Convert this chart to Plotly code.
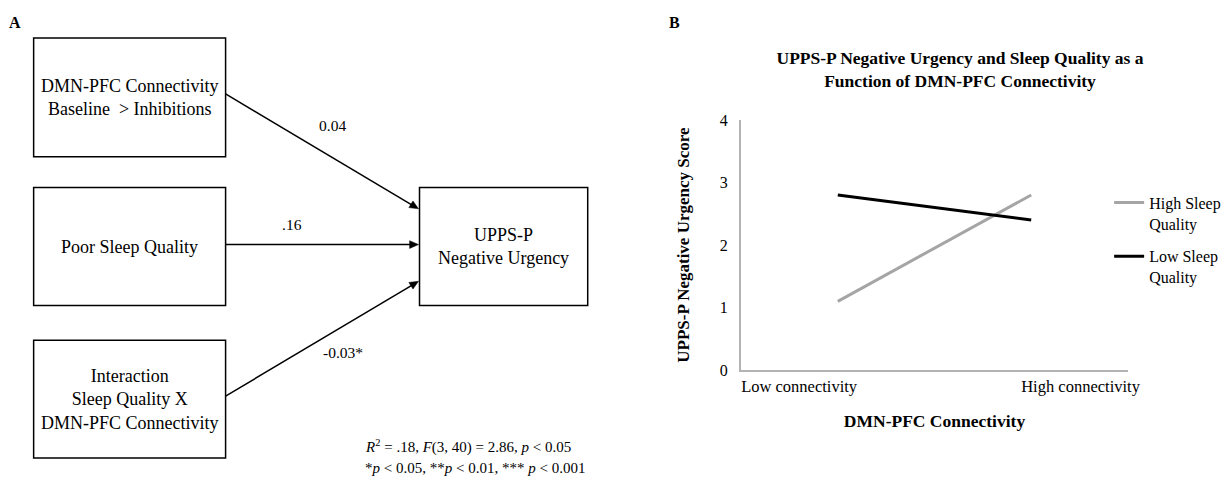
import math
import plotly.graph_objects as go

# ---------------- data ----------------
# Panel A: path diagram
predictor_labels = [
    "DMN-PFC Connectivity<br>Baseline\u00a0 > Inhibitions",
    "Poor Sleep Quality",
    "Interaction<br>Sleep Quality X<br>DMN-PFC Connectivity",
]
outcome_label = "UPPS-P<br>Negative Urgency"
path_coefficients = ["0.04", ".16", "-0.03*"]
model_fit_note = "<i>R</i><sup>2</sup> = .18, <i>F</i>(3, 40) = 2.86, <i>p</i> &lt; 0.05"
significance_note = "*<i>p</i> &lt; 0.05, **<i>p</i> &lt; 0.01, *** <i>p</i> &lt; 0.001"

# Panel B: interaction plot
categories = ["Low connectivity", "High connectivity"]
high_sleep_quality = [1.1, 2.8]
low_sleep_quality = [2.8, 2.4]
series_names = ["High Sleep<br>Quality", "Low Sleep<br>Quality"]
y_ticks = [0, 1, 2, 3, 4]

# ---------------- layout helpers ----------------
W, H = 1228, 494
SERIF = "Liberation Serif, Times New Roman, serif"


def px(x):
    return x / W


def py(y):
    return 1 - y / H


fig = go.Figure()

# ---------------- Panel B traces ----------------
x_positions = list(range(len(categories)))
fig.add_trace(go.Scatter(
    x=x_positions, y=high_sleep_quality, mode="lines", name=series_names[0],
    line=dict(color="#a5a5a5", width=3), legendgroup="g1",
))
fig.add_trace(go.Scatter(
    x=x_positions, y=low_sleep_quality, mode="lines", name=series_names[1],
    line=dict(color="#000000", width=3), legendgroup="g2",
))

x_left, x_right = 749, 1140
y_top, y_bottom = 116, 375

fig.update_layout(
    width=W, height=H, autosize=False,
    margin=dict(l=0, r=0, t=0, b=0),
    paper_bgcolor="white", plot_bgcolor="white",
    font=dict(family=SERIF, color="black", size=16),
    title=dict(
        text="<b>UPPS-P Negative Urgency and Sleep Quality as a<br>Function of DMN-PFC Connectivity</b>",
        x=px(960), xanchor="center", y=py(64), yanchor="top",
        font=dict(family=SERIF, size=17.5, color="black"),
    ),
    xaxis=dict(
        domain=[px(x_left), px(x_right)], range=[-0.5, len(categories) - 0.5],
        showgrid=False, zeroline=False, showline=True, linecolor="#b3b3b3", linewidth=2,
        ticks="", tickmode="array", tickvals=[-0.2, 1.255], ticktext=categories,
        tickfont=dict(family=SERIF, size=16.5), fixedrange=True,
        title=dict(text="<b>DMN-PFC Connectivity</b>", font=dict(family=SERIF, size=17.5), standoff=20),
    ),
    yaxis=dict(
        domain=[py(y_bottom), py(y_top)], range=[0, 4],
        showgrid=False, zeroline=False, showline=True, linecolor="#b3b3b3", linewidth=2,
        ticks="", tickmode="array", tickvals=y_ticks, ticktext=[str(v) for v in y_ticks],
        tickfont=dict(family=SERIF, size=16), ticklabelstandoff=8, fixedrange=True,
        title=dict(text="<b>UPPS-P Negative Urgency Score</b>", font=dict(family=SERIF, size=17), standoff=26),
    ),
    legend=dict(
        x=px(1121), y=py(184), xanchor="left", yanchor="top",
        font=dict(family=SERIF, size=16), valign="top",
        traceorder="grouped", tracegroupgap=9, itemwidth=30,
        bgcolor="rgba(0,0,0,0)",
    ),
    showlegend=True,
)

# ---------------- Panel A drawing ----------------
predictor_boxes = [(34, 31, 228, 154), (34, 186, 228, 308), (34, 344, 228, 466)]
outcome_box = (424, 186, 594, 308)
arrow_starts = [(228, 89), (228, 245), (228, 402)]
arrow_ends = [(423, 208), (423, 245), (423, 283)]
coef_positions = [(336, 122), (295, 224), (347, 357)]

shapes = []
annotations = []
box_line = dict(color="black", width=1.5)

for (x0, y0, x1, y1), label in zip(predictor_boxes, predictor_labels):
    shapes.append(dict(type="rect", xref="paper", yref="paper",
                       x0=px(x0), x1=px(x1), y0=py(y1), y1=py(y0),
                       line=box_line, fillcolor="rgba(0,0,0,0)"))
    annotations.append(dict(xref="paper", yref="paper", x=px((x0 + x1) / 2), y=py((y0 + y1) / 2),
                            text=label, showarrow=False, xanchor="center", yanchor="middle",
                            font=dict(family=SERIF, size=18), align="center"))

ox0, oy0, ox1, oy1 = outcome_box
shapes.append(dict(type="rect", xref="paper", yref="paper",
                   x0=px(ox0), x1=px(ox1), y0=py(oy1), y1=py(oy0),
                   line=box_line, fillcolor="rgba(0,0,0,0)"))
annotations.append(dict(xref="paper", yref="paper", x=px((ox0 + ox1) / 2), y=py((oy0 + oy1) / 2),
                        text=outcome_label, showarrow=False, xanchor="center", yanchor="middle",
                        font=dict(family=SERIF, size=18), align="center"))

HEAD_LEN, HEAD_HALF = 9, 4
for (sx, sy), (ex, ey), coef, (cx, cy) in zip(arrow_starts, arrow_ends, path_coefficients, coef_positions):
    dx, dy = ex - sx, ey - sy
    length = math.hypot(dx, dy)
    ux, uy = dx / length, dy / length
    bx, by = ex - ux * HEAD_LEN, ey - uy * HEAD_LEN
    nx, ny = -uy, ux
    shapes.append(dict(type="line", xref="paper", yref="paper",
                       x0=px(sx), y0=py(sy), x1=px(bx + ux * 1), y1=py(by + uy * 1),
                       line=dict(color="black", width=1.5)))
    p1 = (px(ex), py(ey))
    p2 = (px(bx + nx * HEAD_HALF), py(by + ny * HEAD_HALF))
    p3 = (px(bx - nx * HEAD_HALF), py(by - ny * HEAD_HALF))
    shapes.append(dict(type="path", xref="paper", yref="paper",
                       path=f"M {p1[0]} {p1[1]} L {p2[0]} {p2[1]} L {p3[0]} {p3[1]} Z",
                       fillcolor="black", line=dict(color="black", width=0.5)))
    annotations.append(dict(xref="paper", yref="paper", x=px(cx), y=py(cy), text=coef,
                            showarrow=False, xanchor="center", yanchor="middle",
                            font=dict(family=SERIF, size=15.5)))

annotations.append(dict(xref="paper", yref="paper", x=px(367), y=py(454), text=model_fit_note,
                        showarrow=False, xanchor="left", yanchor="middle", font=dict(family=SERIF, size=15)))
annotations.append(dict(xref="paper", yref="paper", x=px(367), y=py(476), text=significance_note,
                        showarrow=False, xanchor="left", yanchor="middle", font=dict(family=SERIF, size=15)))

# Panel letters
annotations.append(dict(xref="paper", yref="paper", x=px(15), y=py(15), text="<b>A</b>",
                        showarrow=False, xanchor="center", yanchor="middle", font=dict(family=SERIF, size=16)))
annotations.append(dict(xref="paper", yref="paper", x=px(682), y=py(15), text="<b>B</b>",
                        showarrow=False, xanchor="center", yanchor="middle", font=dict(family=SERIF, size=16)))

fig.update_layout(shapes=shapes, annotations=annotations)

fig.write_html("out.html", config={"displayModeBar": False},
               post_script="document.body.style.margin='0';")
